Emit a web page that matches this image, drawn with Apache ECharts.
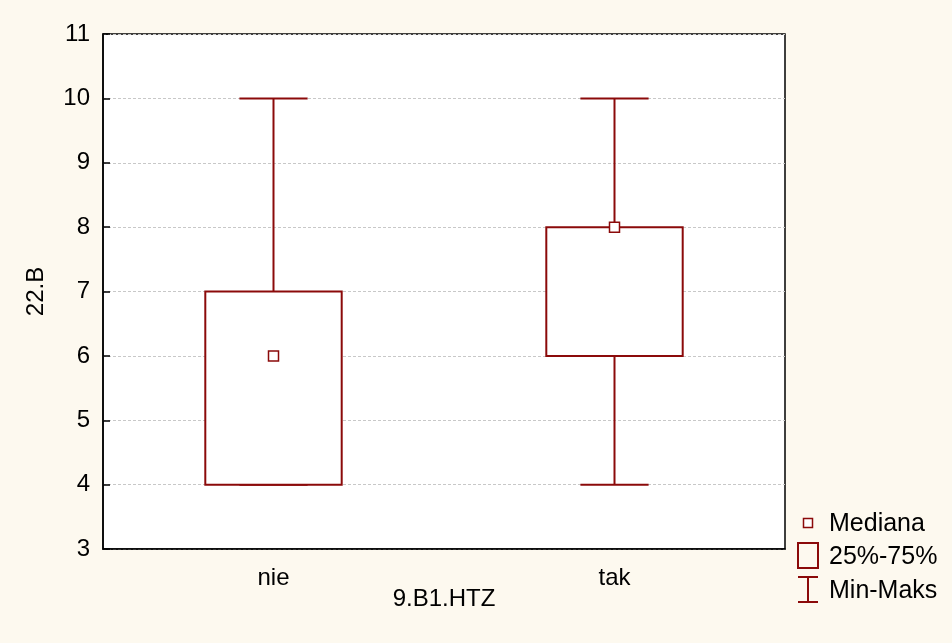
<!DOCTYPE html>
<html>
<head>
<meta charset="utf-8">
<script src="https://cdn.jsdelivr.net/npm/echarts@6/dist/echarts.min.js"></script>
<style>
html,body{margin:0;padding:0;background:#FDF9EF;}
#c{width:952px;height:643px;}
</style>
</head>
<body>
<div id="c"></div>
<script>
var categories = ['nie', 'tak'];
var minVals = [4, 4];
var q1Vals = [4, 6];
var medianVals = [6, 8];
var q3Vals = [7, 8];
var maxVals = [10, 10];
var legendLabels = ['Mediana', '25%-75%', 'Min-Maks'];

var RED = '#8B0A0A';
var FONT = 'Liberation Sans, Arial, sans-serif';
var FS = 24;

var seriesData = categories.map(function (c, i) {
  return [i, minVals[i], q1Vals[i], medianVals[i], q3Vals[i], maxVals[i]];
});

var chart = echarts.init(document.getElementById('c'), null, {renderer: 'canvas'});

function renderItem(params, api) {
  var idx = api.value(0);
  var pMin = api.coord([idx, api.value(1)]);
  var pQ1 = api.coord([idx, api.value(2)]);
  var pMed = api.coord([idx, api.value(3)]);
  var pQ3 = api.coord([idx, api.value(4)]);
  var pMax = api.coord([idx, api.value(5)]);
  var band = api.size([1, 0])[0];
  var bw = band * 0.4;
  var cw = bw / 2;
  var x = pMed[0];
  var lineStyle = {stroke: RED, lineWidth: 2, fill: null};
  var children = [
    {type: 'line', shape: {x1: x, y1: pMax[1], x2: x, y2: pQ3[1]}, style: lineStyle},
    {type: 'line', shape: {x1: x, y1: pQ1[1], x2: x, y2: pMin[1]}, style: lineStyle},
    {type: 'line', shape: {x1: x - cw / 2, y1: pMax[1], x2: x + cw / 2, y2: pMax[1]}, style: lineStyle},
    {type: 'line', shape: {x1: x - cw / 2, y1: pMin[1], x2: x + cw / 2, y2: pMin[1]}, style: lineStyle},
    {type: 'rect', shape: {x: x - bw / 2, y: pQ3[1], width: bw, height: pQ1[1] - pQ3[1]},
      style: {stroke: RED, lineWidth: 2, fill: '#ffffff'}},
    {type: 'rect', shape: {x: x - 5, y: pMed[1] - 5, width: 10, height: 10},
      style: {stroke: RED, lineWidth: 1.5, fill: '#ffffff'}}
  ];
  return {type: 'group', children: children};
}

var lx = 808;
var option = {
  backgroundColor: '#FDF9EF',
  animation: false,
  grid: {left: 103, right: 167, top: 34, bottom: 94, show: true, backgroundColor: '#ffffff',
    borderColor: '#000000', borderWidth: 1.5},
  xAxis: {
    type: 'category',
    data: categories,
    boundaryGap: true,
    name: '9.B1.HTZ',
    nameLocation: 'middle',
    nameGap: 38,
    nameMoveOverlap: false,
    nameTextStyle: {color: '#000', fontSize: FS, fontFamily: FONT},
    axisLine: {lineStyle: {color: '#000', width: 1.5}},
    axisTick: {inside: true, alignWithLabel: true, length: 7, lineStyle: {color: '#000', width: 1.5}},
    axisLabel: {color: '#000', fontSize: FS, fontFamily: FONT, margin: 17},
    splitLine: {show: false}
  },
  yAxis: {
    type: 'value',
    min: 3, max: 11, interval: 1,
    name: '22.B',
    nameLocation: 'middle',
    nameGap: 55,
    nameRotate: 90,
    nameMoveOverlap: false,
    nameTextStyle: {color: '#000', fontSize: FS, fontFamily: FONT},
    axisLine: {show: true, lineStyle: {color: '#000', width: 1.5}},
    axisTick: {show: true, inside: true, length: 7, lineStyle: {color: '#000', width: 1.5}},
    axisLabel: {color: '#000', fontSize: FS, fontFamily: FONT, margin: 13},
    splitLine: {show: true, lineStyle: {color: '#C8C8C8', type: [3, 2], width: 1}}
  },
  series: [{
    type: 'custom',
    renderItem: renderItem,
    encode: {x: 0, y: [1, 2, 3, 4, 5]},
    data: seriesData,
    z: 5
  }],
  graphic: [
    {type: 'rect', shape: {x: lx - 4.5, y: 518.5, width: 9, height: 9}, style: {stroke: RED, lineWidth: 1.5, fill: '#ffffff'}},
    {type: 'text', x: 829, y: 524, style: {text: legendLabels[0], fill: '#000', font: '25px ' + FONT, textVerticalAlign: 'middle'}},
    {type: 'rect', shape: {x: 798, y: 543, width: 20, height: 25}, style: {stroke: RED, lineWidth: 2, fill: 'none'}},
    {type: 'text', x: 829, y: 557, style: {text: legendLabels[1], fill: '#000', font: '25px ' + FONT, textVerticalAlign: 'middle'}},
    {type: 'line', shape: {x1: 798, y1: 577, x2: 818, y2: 577}, style: {stroke: RED, lineWidth: 2}},
    {type: 'line', shape: {x1: lx, y1: 577, x2: lx, y2: 602}, style: {stroke: RED, lineWidth: 2}},
    {type: 'line', shape: {x1: 798, y1: 602, x2: 818, y2: 602}, style: {stroke: RED, lineWidth: 2}},
    {type: 'text', x: 829, y: 591, style: {text: legendLabels[2], fill: '#000', font: '25px ' + FONT, textVerticalAlign: 'middle'}}
  ]
};
chart.setOption(option);
</script>
</body>
</html>
